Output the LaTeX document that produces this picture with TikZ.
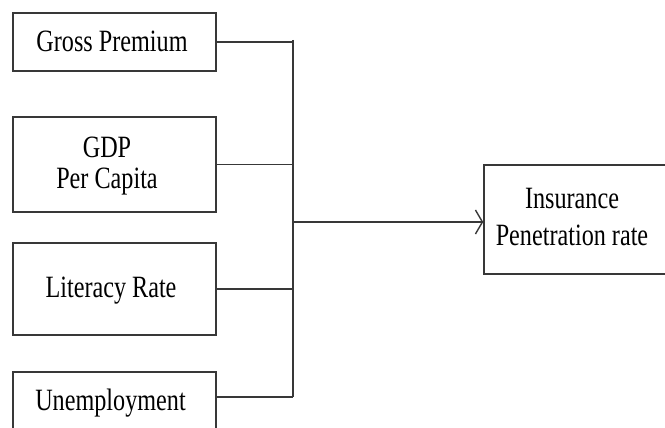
\documentclass[tikz,border=0pt]{standalone}
\usepackage{fontspec}
\setmainfont{Liberation Serif}
\usepackage{graphicx}
\usetikzlibrary{arrows.meta}
\newcommand\sqz[2]{{\fontsize{31}{#1}\selectfont\scalebox{0.78}[1]{\begin{tabular}[b]{@{}c@{}}#2\end{tabular}}}}
\begin{document}
\begin{tikzpicture}[x=1pt,y=-1pt,
  box/.style={draw=black!78, line width=1.5pt, inner sep=0pt, minimum width=203pt},
  conn/.style={draw=black!78, line width=1.5pt},
  lbl/.style={inner sep=0pt, anchor=base}]
\useasboundingbox (0,0) rectangle (665,428);
\clip (0,0) rectangle (665,428);
% boxes
\node[box, minimum height=58pt] (gp) at (114.5,42) {};
\node[box, minimum height=95pt] (gdp) at (114.5,164.5) {};
\node[box, minimum height=92pt] (lr) at (114.5,289) {};
\node[box, minimum height=80pt] (un) at (114.5,412) {};
\node[box, minimum width=320pt, minimum height=109pt] (tgt) at (644,219.5) {};
% labels
\node[lbl] (gpl) at (112,52) {\sqz{31}{Gross Premium}};
\node[lbl] (gdpl) at (107,188) {\sqz{31}{GDP\\Per Capita}};
\node[lbl] (lrl) at (111,297) {\sqz{31}{Literacy Rate}};
\node[lbl] (unl) at (110.5,410) {\sqz{31}{Unemployment}};
\node[lbl] (tgtl) at (572,245) {\sqz{37}{Insurance\\Penetration rate}};
% bus
\coordinate (bt) at (293,40);
\coordinate (bb) at (293,397);
\coordinate (bm) at (293,222);
\draw[conn] (gp.east) -- (gp.east -| bt);
\draw[conn] (gdp.east) -- (gdp.east -| bt);
\draw[conn] (lr.east) -- (lr.east -| bt);
\draw[conn] (bb -| un.east) -- (bb);
\draw[conn] (bt) -- (bb);
\draw[conn, -{Straight Barb[length=7pt,width=24pt,line width=1.4pt]}] (bm) -- (bm -| tgt.west);
\end{tikzpicture}
\end{document}
